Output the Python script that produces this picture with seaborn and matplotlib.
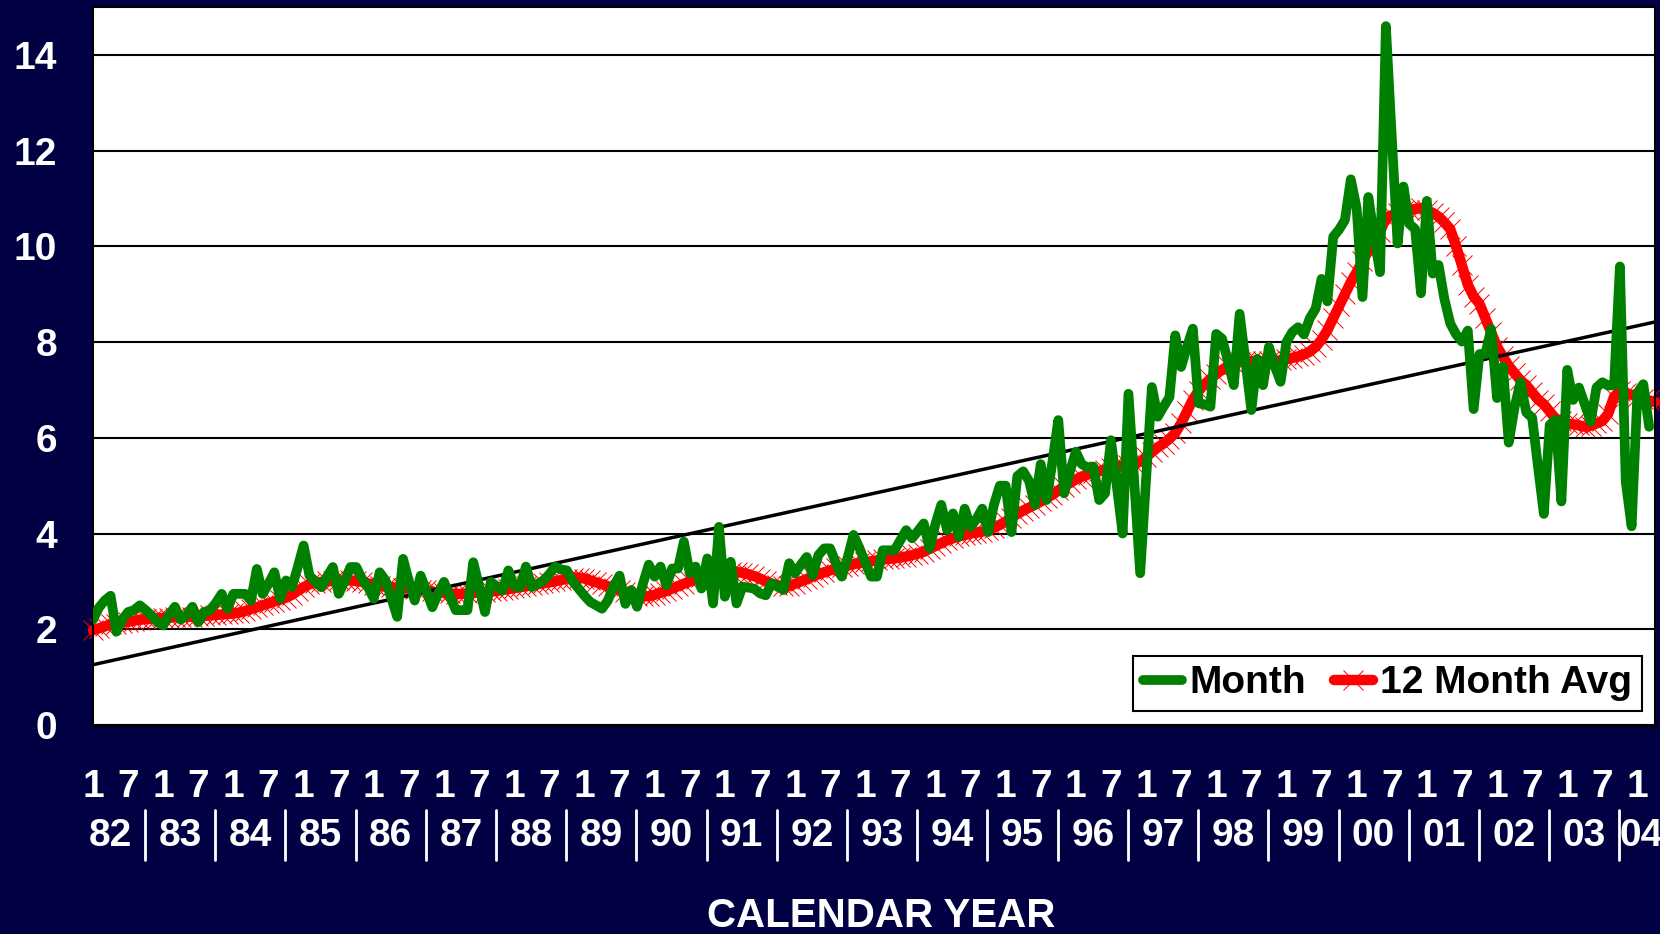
import matplotlib
matplotlib.use('Agg')
import pandas as pd
import matplotlib.pyplot as plt
from matplotlib.ticker import FixedLocator, MultipleLocator
import seaborn as sns

# monthly values, Jan 1982 .. Mar 2004 (one row per calendar year)
month_vals = [
    2.2, 2.45, 2.6, 2.7, 1.95, 2.2, 2.36, 2.4, 2.5, 2.4, 2.29, 2.15,          # 82
    2.08, 2.3, 2.47, 2.2, 2.3, 2.47, 2.15, 2.36, 2.4, 2.55, 2.74, 2.43,       # 83
    2.74, 2.74, 2.74, 2.6, 3.26, 2.74, 2.95, 3.19, 2.64, 3.02, 2.88, 3.3,     # 84
    3.75, 3.12, 3.0, 2.88, 3.1, 3.3, 2.74, 3.0, 3.3, 3.3, 3.05, 2.88,         # 85
    2.64, 3.19, 3.02, 2.65, 2.26, 3.47, 3.0, 2.6, 3.12, 2.8, 2.46, 2.75,      # 86
    2.99, 2.7, 2.4, 2.4, 2.4, 3.4, 2.9, 2.36, 2.99, 2.9, 2.81, 3.23,          # 87
    2.9, 2.88, 3.31, 2.88, 2.95, 3.02, 3.15, 3.31, 3.25, 3.23, 3.0, 2.85,     # 88
    2.7, 2.57, 2.5, 2.43, 2.6, 2.9, 3.12, 2.53, 2.82, 2.47, 2.95, 3.35,       # 89
    3.1, 3.31, 2.92, 3.27, 3.27, 3.83, 3.17, 3.31, 2.85, 3.48, 2.54, 4.14,    # 90
    2.68, 3.41, 2.54, 2.89, 2.87, 2.85, 2.75, 2.71, 2.96, 2.9, 2.82, 3.38,    # 91
    3.17, 3.35, 3.51, 3.13, 3.55, 3.69, 3.69, 3.38, 3.1, 3.5, 3.97, 3.7,      # 92
    3.4, 3.1, 3.1, 3.65, 3.65, 3.65, 3.86, 4.07, 3.9, 4.05, 4.21, 3.69,       # 93
    4.2, 4.6, 4.07, 4.42, 3.93, 4.52, 4.14, 4.3, 4.52, 4.03, 4.6, 5.0,        # 94
    5.0, 4.03, 5.2, 5.3, 5.1, 4.6, 5.45, 4.7, 5.5, 6.37, 4.84, 5.3,           # 95
    5.71, 5.45, 5.38, 5.4, 4.7, 4.84, 5.95, 5.0, 4.0, 6.92, 5.05, 3.17,       # 96
    5.1, 7.06, 6.44, 6.65, 6.85, 8.14, 7.48, 7.9, 8.28, 6.72, 6.7, 6.65,      # 97
    8.17, 8.07, 7.6, 7.1, 8.59, 7.6, 6.58, 7.65, 7.1, 7.9, 7.5, 7.17,         # 98
    8.0, 8.21, 8.31, 8.16, 8.5, 8.7, 9.32, 8.85, 10.2, 10.35, 10.55, 11.4,    # 99
    10.8, 8.94, 11.03, 10.2, 9.46, 14.6, 12.3, 10.06, 11.25, 10.47, 10.36, 9.02,  # 00
    10.95, 9.43, 9.61, 8.9, 8.39, 8.16, 8.01, 8.24, 6.6, 7.75, 7.75, 8.27,    # 01
    6.83, 7.49, 5.9, 6.64, 7.16, 6.53, 6.42, 5.4, 4.41, 6.27, 6.38, 4.67,     # 02
    7.42, 6.79, 7.05, 6.7, 6.34, 7.05, 7.16, 7.09, 7.1, 9.58, 5.08, 4.15,     # 03
    6.94, 7.12, 6.23,                                                         # 04
]

# 12 month average, Jan 1982 .. Apr 2004
avg_vals = [
    1.98, 2.02, 2.06, 2.1, 2.12, 2.14, 2.16, 2.18, 2.2, 2.21, 2.22, 2.23,
    2.24, 2.24, 2.25, 2.25, 2.26, 2.26, 2.27, 2.28, 2.29, 2.3, 2.31, 2.32,
    2.33, 2.35, 2.38, 2.42, 2.46, 2.5, 2.54, 2.58, 2.62, 2.66, 2.72, 2.8,
    2.88, 2.94, 2.97, 2.99, 3.0, 3.01, 3.02, 3.02, 3.02, 3.01, 2.99, 2.96,
    2.93, 2.91, 2.89, 2.88, 2.87, 2.86, 2.85, 2.84, 2.83, 2.81, 2.79, 2.77,
    2.76, 2.75, 2.74, 2.74, 2.75, 2.76, 2.77, 2.78, 2.79, 2.8, 2.82, 2.84,
    2.86, 2.88, 2.9, 2.92, 2.94, 2.96, 2.98, 3.0, 3.03, 3.06, 3.08, 3.08,
    3.06, 3.02, 2.98, 2.94, 2.9, 2.86, 2.82, 2.77, 2.73, 2.7, 2.69, 2.69,
    2.72, 2.76, 2.8, 2.85, 2.9, 2.95, 3.0, 3.05, 3.09, 3.12, 3.15, 3.17,
    3.19, 3.2, 3.2, 3.18, 3.15, 3.11, 3.06, 3.0, 2.95, 2.92, 2.9, 2.9,
    2.95, 3.0, 3.05, 3.1, 3.15, 3.19, 3.23, 3.27, 3.3, 3.33, 3.36, 3.38,
    3.4, 3.42, 3.44, 3.46, 3.47, 3.48, 3.5, 3.52, 3.55, 3.58, 3.62, 3.68,
    3.74, 3.8, 3.86, 3.9, 3.94, 3.97, 4.0, 4.02, 4.04, 4.07, 4.12, 4.18,
    4.25, 4.33, 4.41, 4.48, 4.54, 4.6, 4.67, 4.74, 4.81, 4.9, 4.98, 5.06,
    5.13, 5.19, 5.23, 5.27, 5.3, 5.33, 5.36, 5.39, 5.42, 5.44, 5.45, 5.5,
    5.6, 5.7, 5.8, 5.88, 5.98, 6.1, 6.3, 6.55, 6.8, 6.98, 7.12, 7.23,
    7.33, 7.42, 7.5, 7.55, 7.58, 7.6, 7.6, 7.6, 7.6, 7.6, 7.6, 7.62,
    7.64, 7.67, 7.7, 7.74, 7.8, 7.9, 8.05, 8.25, 8.5, 8.75, 9.0, 9.25,
    9.46, 9.7, 9.9, 10.05, 10.3, 10.6, 10.65, 10.7, 10.73, 10.76, 10.78, 10.8,
    10.75, 10.7, 10.62, 10.5, 10.36, 10.0, 9.6, 9.2, 8.95, 8.8, 8.5, 8.2,
    7.9, 7.7, 7.5, 7.35, 7.2, 7.1, 6.95, 6.8, 6.7, 6.55, 6.4, 6.35,
    6.3, 6.28, 6.26, 6.23, 6.25, 6.3, 6.35, 6.5, 6.86, 6.97, 6.93, 6.9,
    6.86, 6.82, 6.78, 6.75,
]

# straight trend line, value at first and last month
trend_vals = [1.26, 8.42]

month_marks = ['1', '7']
year_labels = ['82', '83', '84', '85', '86', '87', '88', '89', '90', '91', '92',
               '93', '94', '95', '96', '97', '98', '99', '00', '01', '02', '03', '04']

navy = '#000042'
sns.set_theme(style='white')
plt.rcParams['font.family'] = ['Liberation Sans', 'DejaVu Sans']
plt.rcParams['font.weight'] = 'bold'

df_m = pd.DataFrame({'mes': range(len(month_vals)), 'val': month_vals})
df_a = pd.DataFrame({'mes': range(len(avg_vals)), 'val': avg_vals})
x_end = len(avg_vals) - 1

fig = plt.figure(figsize=(16.6, 9.34), dpi=100, facecolor=navy)
ax = fig.add_axes([93 / 1660, 1 - 725 / 934, (1655 - 93) / 1660, (725 - 7) / 934])
ax.set_facecolor('white')

sns.lineplot(data=df_a, x='mes', y='val', color='#ff0000', linewidth=7.5, marker='x',
             markersize=14, markeredgewidth=0.7, markeredgecolor='#ff0000',
             clip_on=False, label='12 Month Avg', ax=ax, zorder=2)
ax.plot([0, x_end], trend_vals, color='black', linewidth=2.5, zorder=3)
sns.lineplot(data=df_m, x='mes', y='val', color='#008000', linewidth=7,
             label='Month', ax=ax, zorder=4)

ax.set_xlim(0, x_end)
ax.set_ylim(0, 15)
ax.set_xlabel('')
ax.set_ylabel('')

# pusmečio žymės: 1 ir 7 mėnuo
tick_pos = list(range(0, 12 * (len(year_labels) - 1) + 1, 6))
ax.xaxis.set_major_locator(FixedLocator(tick_pos))
ax.set_xticklabels([month_marks[k % 2] for k in range(len(tick_pos))])
ax.xaxis.set_minor_locator(MultipleLocator(1))
ax.set_yticks(range(0, 15, 2))

ax.tick_params(axis='x', which='major', direction='inout', length=34, width=2,
               color='black', pad=15, labelsize=28, labelcolor='white')
ax.tick_params(axis='x', which='minor', direction='in', length=8.6, width=1.1,
               color='black')
ax.tick_params(axis='y', which='major', direction='in', length=16, width=1.5,
               color='black', pad=26, labelsize=28, labelcolor='white')

ax.yaxis.grid(True, color='black', linewidth=1.5)
ax.xaxis.grid(False)
ax.set_axisbelow(True)
for side in ['top', 'right', 'left']:
    ax.spines[side].set_color('black')
    ax.spines[side].set_linewidth(1.5)
ax.spines['bottom'].set_color('black')
ax.spines['bottom'].set_linewidth(2.2)

# metų eilutė su skirtukais
trans = ax.get_xaxis_transform()
for k, lab in enumerate(year_labels):
    xpos = 12 * k + 2.9 if k < len(year_labels) - 1 else 12 * k + 0.6
    ax.text(xpos, -0.154, lab, transform=trans, ha='center', va='center',
            color='white', fontsize=28, fontweight='bold', clip_on=False)
    if k > 0:
        ax.plot([12 * k - 3.1, 12 * k - 3.1], [-0.118, -0.188], transform=trans,
                color='white', linewidth=2, clip_on=False)

fig.text(0.5307, 0.019, 'CALENDAR YEAR', ha='center', va='center',
         color='white', fontsize=29, fontweight='bold')

handles, labels = ax.get_legend_handles_labels()
order = [labels.index('Month'), labels.index('12 Month Avg')]
leg = ax.legend([handles[i] for i in order], [labels[i] for i in order],
                loc='lower right', bbox_to_anchor=(0.9917, 0.0195), ncol=2,
                frameon=True, fancybox=False, edgecolor='black', framealpha=1,
                prop={'size': 28, 'weight': 'bold'}, handlelength=1.0,
                handletextpad=0.2, columnspacing=0.7, borderpad=0.25,
                borderaxespad=0)
leg.get_frame().set_linewidth(1.5)
for t in leg.get_texts():
    t.set_color('black')

fig.savefig('out.png', dpi=100, facecolor=navy)
